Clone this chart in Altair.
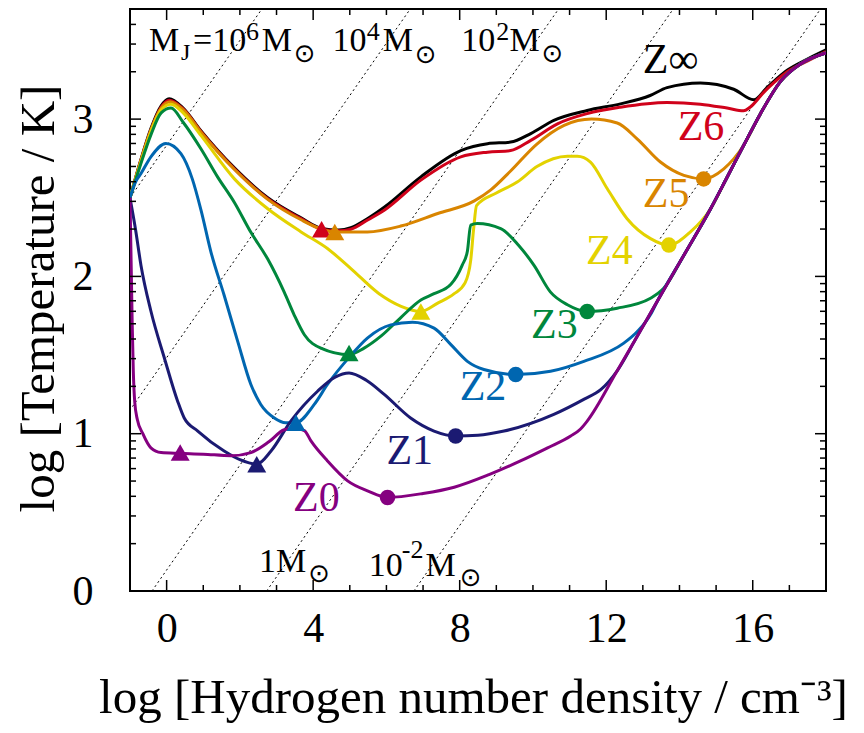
import math
import altair as alt
import pandas as pd

# ---------------- data ----------------
# shared high-density branch (all low-Z curves join it)
s_x = [12.3, 12.8, 13.39, 14.12, 14.85, 15.3, 15.75, 16.2, 16.76, 17.3, 18.0]
s_y = [1.40, 1.60, 1.84, 2.135, 2.43, 2.63, 2.832, 3.03, 3.24, 3.35, 3.42]

zinf_x = [-1.0, -0.7, -0.43, -0.15, 0.07, 0.45, 0.94, 1.85, 2.76, 3.67, 4.23, 4.7, 5.03, 5.5, 5.94,
          6.94, 8.03, 8.76, 9.39, 9.94, 10.57, 11.48, 12.39, 13.2, 13.66, 14.57, 15.48, 16.03, 16.39,
          16.94, 17.48, 18.0]
zinf_y = [2.5, 2.745, 2.94, 3.085, 3.13, 3.07, 2.925, 2.69, 2.5, 2.372, 2.305, 2.295, 2.31, 2.37, 2.44,
          2.633, 2.80, 2.844, 2.854, 2.908, 2.992, 3.055, 3.097, 3.15, 3.20, 3.23, 3.19, 3.123, 3.20,
          3.31, 3.38, 3.44]

z6_x = [-1.0, -0.7, -0.43, -0.15, 0.07, 0.45, 0.94, 1.85, 2.76, 3.67, 4.23, 4.7, 5.03, 5.5, 5.94, 6.94,
        8.03, 8.76, 9.39, 9.94, 10.67, 11.48, 12.39, 13.66, 14.57, 15.3, 15.75, 15.95, 16.3, 16.57, 17.0,
        17.5, 18.0]
z6_y = [2.5, 2.739, 2.93, 3.076, 3.12, 3.065, 2.92, 2.684, 2.494, 2.367, 2.30, 2.29, 2.30, 2.36, 2.42,
        2.612, 2.76, 2.79, 2.80, 2.865, 2.97, 3.035, 3.076, 3.106, 3.095, 3.07, 3.053, 3.08, 3.17, 3.23,
        3.31, 3.37, 3.43]

z5_x = [-1.0, -0.7, -0.43, -0.15, 0.1, 0.45, 0.94, 1.85, 2.76, 3.67, 4.23, 4.59, 5.48, 6.39, 7.4, 8.4,
        8.85, 9.39, 10.1, 10.85, 11.6, 12.3, 12.85, 13.48, 14.12, 14.66, 15.21] + s_x[6:]
z5_y = [2.5, 2.739, 2.93, 3.07, 3.11, 3.06, 2.915, 2.68, 2.49, 2.36, 2.30, 2.282, 2.283, 2.32, 2.40, 2.48,
        2.55, 2.67, 2.84, 2.96, 3.0, 2.975, 2.873, 2.727, 2.642, 2.62, 2.684] + s_y[6:]

z4_x = [-1.0, -0.7, -0.43, -0.15, 0.12, 0.45, 0.94, 1.85, 2.76, 3.67, 4.39, 5.03, 5.8, 6.4, 6.94, 7.4,
        7.85, 8.15, 8.3, 8.38, 8.46, 9.0, 9.57, 10.12, 10.94, 11.21, 11.57, 12.03, 12.57, 13.21, 13.71,
        14.3, 14.85] + s_x[5:]
z4_y = [2.5, 2.73, 2.92, 3.06, 3.095, 3.04, 2.895, 2.62, 2.43, 2.283, 2.177, 2.05, 1.89, 1.81, 1.777,
        1.83, 1.89, 1.96, 2.1, 2.3, 2.45, 2.53, 2.60, 2.70, 2.764, 2.764, 2.727, 2.557, 2.367, 2.24, 2.199,
        2.283, 2.43] + s_y[5:]

z3_x = [-1.0, -0.7, -0.43, -0.15, 0.12, 0.45, 0.94, 1.39, 1.85, 2.3, 2.76, 3.21, 3.48, 3.76, 4.21, 4.98,
        5.39, 5.85, 6.4, 6.94, 7.3, 7.76, 8.07, 8.21, 8.3, 8.48, 9.12, 9.6, 10.03, 10.48, 10.94, 11.48,
        12.3, 13.21, 13.57] + s_x[3:]
z3_y = [2.5, 2.72, 2.9, 3.04, 3.07, 2.98, 2.81, 2.633, 2.47, 2.28, 2.11, 1.90, 1.756, 1.629, 1.544, 1.503,
        1.544, 1.62, 1.74, 1.85, 1.89, 1.95, 2.072, 2.16, 2.326, 2.336, 2.304, 2.2, 2.07, 1.9, 1.82, 1.777,
        1.798, 1.861, 1.924] + s_y[3:]

z2_x = [-1.0, -0.85, -0.7, -0.43, -0.02, 0.39, 0.7, 0.94, 1.21, 1.57, 1.94, 2.3, 2.57, 2.94, 3.25, 3.53,
        4.03, 4.39, 5.0, 5.48, 6.12, 6.71, 7.3, 7.76, 8.21, 8.66, 9.53, 10.48, 11.39, 12.48, 12.85,
        13.21] + s_x[2:]
z2_y = [2.5, 2.6, 2.654, 2.76, 2.845, 2.78, 2.62, 2.42, 2.155, 1.88, 1.587, 1.313, 1.186, 1.10, 1.07,
        1.07, 1.186, 1.313, 1.49, 1.608, 1.692, 1.709, 1.671, 1.566, 1.46, 1.408, 1.376, 1.397, 1.46,
        1.576, 1.65, 1.757] + s_y[2:]

z1_x = [-1.0, -0.85, -0.7, -0.43, -0.06, 0.3, 0.48, 0.85, 1.57, 2.0, 2.46, 2.85, 3.39, 4.12, 4.6, 4.98,
        5.45, 5.94, 6.66, 7.3, 7.89, 8.5, 9.21, 10.57, 11.4, 11.85] + s_x
z1_y = [2.5, 2.3, 2.07, 1.78, 1.48, 1.207, 1.10, 1.017, 0.89, 0.835, 0.806, 0.89, 1.08, 1.27, 1.36, 1.386,
        1.34, 1.25, 1.10, 1.017, 0.985, 0.99, 1.017, 1.123, 1.22, 1.28] + s_y

z0_x = [-1.0, -0.97, -0.94, -0.91, -0.87, -0.8, -0.65, -0.43, -0.15, 0.37, 1.0, 1.76, 2.3, 2.8, 3.21,
        3.5, 3.76, 3.94, 4.39, 4.94, 5.5, 6.03, 7.0, 7.85, 8.8, 9.66, 10.4, 11.03, 11.3, 11.48] + s_x
z0_y = [2.5, 2.1, 1.7, 1.4, 1.2, 1.09, 1.0, 0.91, 0.88, 0.875, 0.87, 0.86, 0.88, 0.95, 1.025, 1.035,
        1.02, 0.954, 0.827, 0.70, 0.635, 0.595, 0.62, 0.66, 0.74, 0.827, 0.91, 0.985, 1.03, 1.08] + s_y

names = ["Z∞", "Z6", "Z5", "Z4", "Z3", "Z2", "Z1", "Z0"]
colors = ["#000000", "#d0021b", "#d98500", "#e3d200", "#00873c", "#0066b0", "#1b1a72", "#850080"]
curves_x = [zinf_x, z6_x, z5_x, z4_x, z3_x, z2_x, z1_x, z0_x]
curves_y = [zinf_y, z6_y, z5_y, z4_y, z3_y, z2_y, z1_y, z0_y]

# triangle markers
tri_series = ["Z6", "Z5", "Z4", "Z3", "Z2", "Z1", "Z0"]
tri_x = [4.23, 4.59, 6.94, 4.98, 3.53, 2.46, 0.37]
tri_y = [2.30, 2.282, 1.777, 1.513, 1.07, 0.806, 0.88]
# circle markers
dot_series = ["Z5", "Z4", "Z3", "Z2", "Z1", "Z0"]
dot_x = [14.66, 13.71, 11.48, 9.53, 7.89, 6.03]
dot_y = [2.62, 2.199, 1.777, 1.376, 0.985, 0.595]

# curve labels (left x, baseline y)
lab_x = [13.0, 13.95, 13.0, 11.45, 9.95, 8.0, 6.0, 3.45]
lab_y = [3.295, 2.865, 2.441, 2.080, 1.606, 1.213, 0.808, 0.511]

# Jeans-mass lines (x where each crosses log T = 0 and log T = 3.7)
jeans_names = ["1e6", "1e4", "1e2", "1", "1e-2"]
jeans_x0 = [-8.5, -4.45, -0.4, 2.73, 6.75]
jeans_x1 = [2.6, 6.65, 10.7, 13.83, 17.85]
jeans_y0 = 0.0
jeans_y1 = 3.7

# Jeans-mass label pieces
jl_text = ["M", "J", "=10", "6", "M", "10", "4", "M", "10", "2", "M", "1M", "10", "-2", "M"]
jl_x = [-0.48, 0.39, 0.72, 2.17, 2.60, 4.53, 5.46, 5.90, 8.04, 9.0, 9.36, 2.52, 5.52, 6.42, 7.07]
jl_y = [3.433, 3.376, 3.433, 3.503, 3.433, 3.433, 3.503, 3.433, 3.433, 3.503, 3.433, 0.118, 0.0985,
        0.207, 0.0985]
jl_size = [34, 24, 34, 26, 34, 34, 26, 34, 34, 26, 34, 34, 34, 26, 34]
sun_x = [3.77, 7.07, 10.53, 4.16, 8.30]
sun_y = [3.415, 3.409, 3.416, 0.105, 0.082]

# axis ticks
x_major = [0, 4, 8, 12, 16]
x_minor = [v for v in range(-1, 19) if v not in x_major]
y_major = [0, 1, 2, 3]
y_minor = [n + math.log10(k) for n in range(0, 4) for k in range(2, 10) if n + math.log10(k) < 3.7]

# ---------------- build tables ----------------
rows = []
for name, xs_, ys_ in zip(names, curves_x, curves_y):
    for i, (a, b) in enumerate(zip(xs_, ys_)):
        rows.append({"series": name, "x": a, "y": b, "i": i})
curves = pd.DataFrame(rows)
tris = pd.DataFrame({"series": tri_series, "x": tri_x, "y": tri_y})
dots = pd.DataFrame({"series": dot_series, "x": dot_x, "y": dot_y})
labels = pd.DataFrame({"series": names, "x": lab_x, "y": lab_y, "text": names})
jrows = []
for n, a, b in zip(jeans_names, jeans_x0, jeans_x1):
    jrows.append({"id": n, "x": a, "y": jeans_y0})
    jrows.append({"id": n, "x": b, "y": jeans_y1})
jeans = pd.DataFrame(jrows)
jlab = pd.DataFrame({"x": jl_x, "y": jl_y, "text": jl_text, "size": jl_size})
suns = pd.DataFrame({"x": sun_x, "y": sun_y})

W, H = 696, 582
FONT = "Liberation Serif"
xs = alt.Scale(domain=[-1, 18], nice=False, zero=False)
ys = alt.Scale(domain=[0, 3.7], nice=False, zero=False)
cs = alt.Scale(domain=names, range=colors)

x_axis = alt.Axis(values=x_major, format="d", title="log [Hydrogen number density / cm⁻³]",
                  labelFont=FONT, labelFontSize=42, labelColor="black", labelPadding=17,
                  ticks=False, tickSize=0, domain=False, grid=False, labelFlush=False,
                  titleFont=FONT, titleFontSize=49, titleFontWeight="normal", titleColor="black",
                  titleX=343, titleY=121, titleBaseline="alphabetic", titleAlign="center")
y_axis = alt.Axis(values=y_major, format="d", title="log [Temperature / K]",
                  labelFont=FONT, labelFontSize=42, labelColor="black", labelPadding=37,
                  ticks=False, tickSize=0, domain=False, grid=False, labelFlush=False,
                  titleFont=FONT, titleFontSize=49, titleFontWeight="normal", titleColor="black",
                  titleX=-116, titleY=289, titleBaseline="top", titleAlign="center", titleAngle=270)


def X(field="x"):
    return alt.X(f"{field}:Q", scale=xs, axis=x_axis)


def Y(field="y"):
    return alt.Y(f"{field}:Q", scale=ys, axis=y_axis)


jeans_layer = alt.Chart(jeans).mark_line(strokeDash=[2, 3], strokeWidth=1, color="black", clip=True).encode(
    x=X(), y=Y(), detail="id:N")

curve_layer = alt.Chart(curves).mark_line(interpolate="monotone", strokeWidth=3, clip=True).encode(
    x=X(), y=Y(),
    color=alt.Color("series:N", scale=cs, legend=None),
    order="i:Q")

tri_layer = alt.Chart(tris).mark_point(shape="triangle-up", filled=True, size=360, opacity=1).encode(
    x=X(), y=Y(), color=alt.Color("series:N", scale=cs, legend=None))

dot_layer = alt.Chart(dots).mark_circle(size=240, opacity=1).encode(
    x=X(), y=Y(), color=alt.Color("series:N", scale=cs, legend=None))

lab_layer = alt.Chart(labels).mark_text(align="left", baseline="alphabetic", font=FONT, fontSize=42).encode(
    x=X(), y=Y(), text="text:N", color=alt.Color("series:N", scale=cs, legend=None))

jlab_layer = alt.Chart(jlab).mark_text(align="left", baseline="alphabetic", font=FONT, color="black").encode(
    x=X(), y=Y(), text="text:N", size=alt.Size("size:Q", scale=None))

sun_layer = alt.Chart(suns).mark_text(text="⊙", align="center", baseline="middle", font="DejaVu Sans",
                                      fontSize=26, color="black").encode(x=X(), y=Y())


def xticks(vals, length, top):
    d = pd.DataFrame({"v": vals})
    y0, y1 = (0, length) if top else (H, H - length)
    return alt.Chart(d).mark_rule(color="black", strokeWidth=1.5).encode(
        x=X("v"), y=alt.value(y0), y2=alt.value(y1))


def yticks(vals, length, right):
    d = pd.DataFrame({"v": vals})
    x0, x1 = (W, W - length) if right else (0, length)
    return alt.Chart(d).mark_rule(color="black", strokeWidth=1.5).encode(
        y=Y("v"), x=alt.value(x0), x2=alt.value(x1))


tick_layers = [xticks(x_major, 11, False), xticks(x_minor, 6, False),
               xticks(x_major, 11, True), xticks(x_minor, 6, True),
               yticks(y_major, 11, False), yticks(y_minor, 6, False),
               yticks(y_major, 11, True), yticks(y_minor, 6, True)]

chart = alt.layer(jeans_layer, curve_layer, tri_layer, dot_layer, lab_layer, jlab_layer, sun_layer,
                  *tick_layers).properties(
    width=W, height=H,
    padding={"left": 122, "top": 1, "right": 30, "bottom": 134},
    autosize=alt.AutoSizeParams(type="none"),
    background="white",
).configure_view(stroke="black", strokeWidth=2)

chart.save("out.html", embed_options={"renderer": "svg", "actions": False})
